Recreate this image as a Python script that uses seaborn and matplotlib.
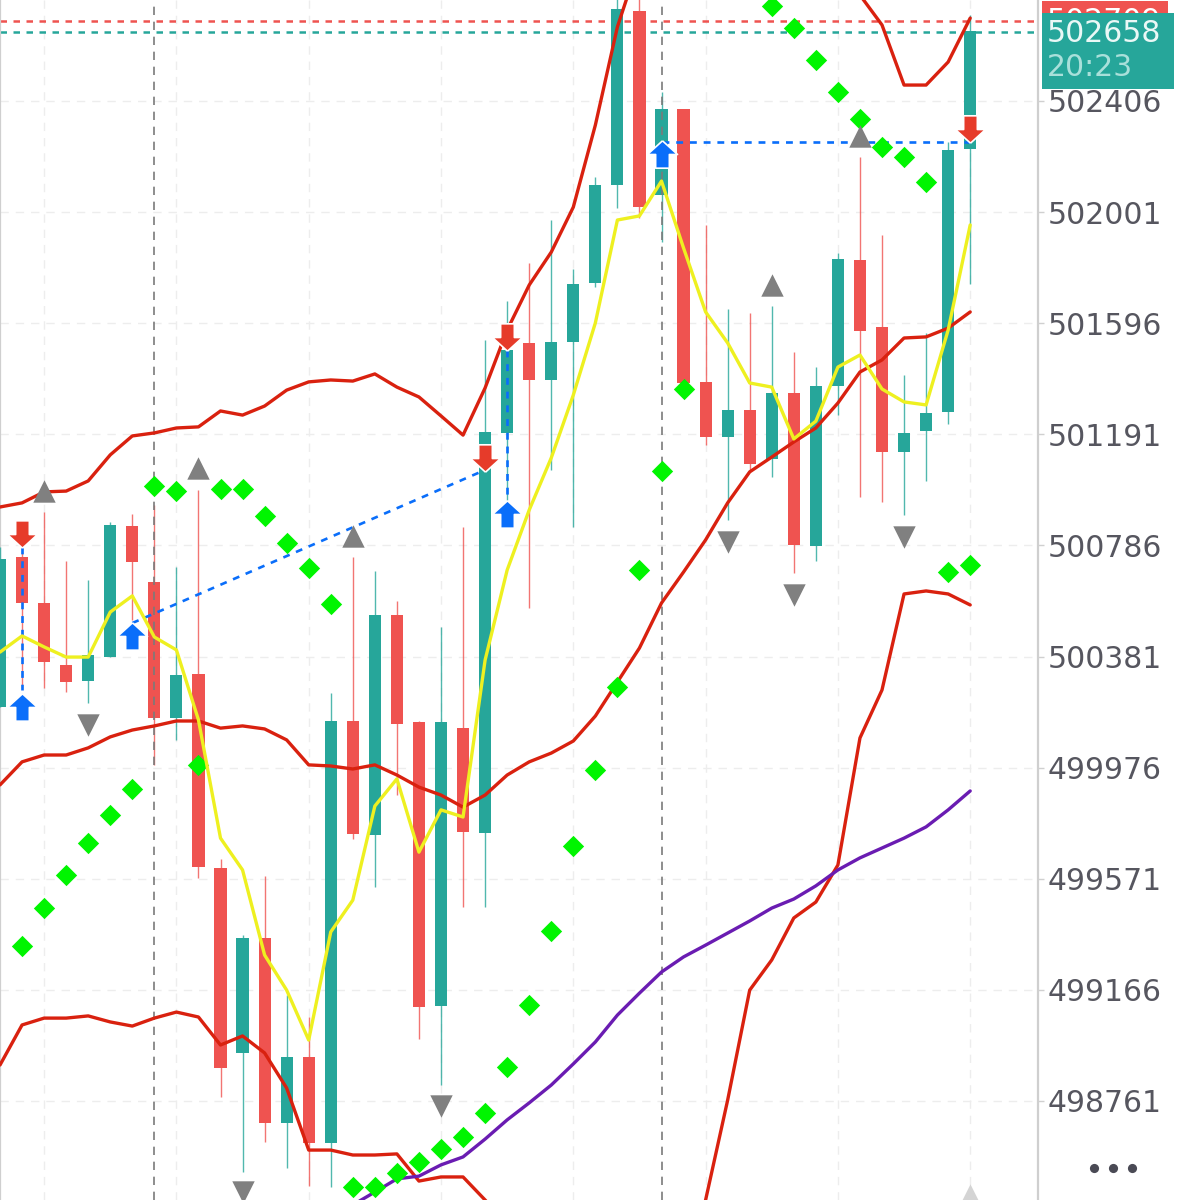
import numpy as np
import pandas as pd
import seaborn as sns
import matplotlib
matplotlib.use("Agg")
import matplotlib.pyplot as plt
from matplotlib.patches import Rectangle
from matplotlib.lines import Line2D

nan = np.nan
# candle values, one entry per bar
opens = [500197,500744,500576,500350,500292,500379,500857,500653,500157,500317,499610,498936,499355,498681,498921,498608,500146,499730,500532,500142,499107,500120,499738,501196,501524,501389,501527,501742,502100,502734,502063,502377,501382,501181,501280,501101,501342,500784,501367,501826,501582,501126,501203,501272,502231]
closes = [500736,500576,500361,500288,500387,500860,500726,500157,500314,499614,498881,499355,498681,498921,498608,500146,499734,500532,500135,499103,500142,499741,501199,501498,501389,501527,501739,502100,502741,502019,502377,501378,501181,501280,501083,501342,500787,501367,501830,501568,501126,501196,501269,502227,502661]
highs = [500780,500780,500908,500729,500660,500871,500900,500933,500707,500988,499643,499366,499581,499147,499067,500248,500744,500693,500583,500146,500489,500853,501535,501677,501815,501972,501793,502129,502847,502847,502439,502377,501954,501648,501633,501659,501491,501436,501852,502202,501917,501407,501560,502256,502719]
lows = [500197,500266,500266,500252,500212,500379,500514,499986,500077,499574,498775,498502,498611,498517,498451,498447,499716,499541,499876,498987,498819,499468,499468,500951,500558,501061,500853,501728,502016,501979,501892,501378,501152,500879,501061,501035,500685,500729,501261,500962,500944,500897,501021,501229,501739]

upper_band = [500926,500941,500981,500984,501021,501116,501185,501196,501214,501218,501276,501261,501294,501352,501382,501389,501385,501411,501363,501327,501258,501188,501360,501571,501735,501855,502019,502318,502676,502920,nan,nan,nan,nan,nan,nan,nan,nan,nan,502792,502683,502464,502464,502548,502708]
middle_band = [499913,499997,500022,500022,500048,500088,500113,500128,500146,500146,500120,500128,500117,500077,499986,499982,499971,499986,499949,499905,499876,499832,499876,499949,499997,500029,500073,500164,500288,500412,500576,500689,500806,500941,501054,501108,501163,501214,501305,501418,501462,501542,501546,501578,501637]
lower_band = [498892,499038,499063,499063,499071,499049,499034,499063,499085,499067,498965,498998,498936,498808,498582,498582,498564,498564,498568,498469,498484,498484,498400,498309,nan,nan,nan,nan,nan,nan,nan,498036,498400,498764,499165,499275,499428,499486,499621,500084,500259,500609,500620,500609,500569]
purple_ma = [nan]*16 + [498382,498429,498477,498487,498528,498557,498622,498692,498754,498819,498896,498976,499074,499154,499231,499286,499329,499373,499417,499464,499497,499545,499603,499647,499683,499719,499760,499822,499891]
yellow_ma = [500397,500456,500416,500379,500379,500543,500602,500452,500405,500150,499719,499603,499293,499165,498983,499377,499493,499836,499935,499668,499822,499796,500368,500696,500915,501105,501334,501597,501972,501987,502114,501870,501637,501524,501378,501363,501174,501239,501436,501480,501356,501309,501298,501571,501954]
sar = [nan,499326,499464,499585,499701,499803,499898,501003,500984,499986,500992,500992,500893,500795,500704,500572,498447,498447,498498,498538,498586,498630,498717,498885,499111,499381,499690,499967,500270,500696,501057,501356,nan,nan,nan,502752,502672,502555,502439,502340,502238,502202,502111,500689,500715]

tri_up_x = [2,9,16,35,39]
tri_up_y = [500984,501068,500820,501735,502278]
tri_up_faint_x = [44]
tri_up_faint_y = [498418]
tri_down_x = [4,11,20,33,36,41]
tri_down_y = [500131,498429,498743,500798,500605,500817]
buy_x = [1,6,23,30]
buy_y = [500197,500456,500900,502213]
sell_x = [1,22,23,44]
sell_y = [500826,501105,501546,502304]
trade_lines = [([1,1],[500780,500259]),([6,22],[500503,501061]),([23,23],[501498,500941]),([30,44],[502256,502256])]
price_ticks = [502406,502001,501596,501191,500786,500381,499976,499571,499166,498761]
grid_x = [2,8,14,20,26,32,38,44]
session_x = [7,30]
ask_price, bid_price = 502697, 502657
ask_label, bid_label, bar_timer = "502709", "502658", "20:23"

RED, TEAL = "#EF5350", "#26A69A"
LINE_RED, YELLOW, PURPLE = "#D9210F", "#EEF020", "#6A1CB2"
BLUE, ARROW_RED, GREEN, GREY = "#0A6EFA", "#E63B2A", "#00F500", "#808080"
TEXT = "#56565F"
W, H, AX_R = 1185, 1200, 1038

sns.set_theme(style="white")
plt.rcParams["font.family"] = ["DejaVu Sans"]
fig = plt.figure(figsize=(W/100, H/100), dpi=100, facecolor="white")
ax = fig.add_axes([0, 0, AX_R/W, 1])

idx = np.arange(len(opens))
df = pd.DataFrame(dict(i=idx, o=opens, c=closes, h=highs, l=lows, up=upper_band, mid=middle_band,
                       lowb=lower_band, purple=purple_ma, yellow=yellow_ma, sar=sar))
is_up = df.c >= df.o
cols = np.where(is_up, TEAL, RED)

ax.vlines(session_x, 498400, 502774, color="#7A7A7A", lw=1.2, ls=(0, (5, 4)), zorder=4)
ax.hlines(ask_price, 0, 48, color=RED, lw=1.8, ls=(0, (2.6, 2.6)), zorder=2)
ax.hlines(bid_price, 0, 48, color=TEAL, lw=1.8, ls=(0, (2.6, 2.6)), zorder=2)

ax.vlines(df.i, df.l, df.h, colors=cols, lw=1.0, alpha=0.8, zorder=3)
ax.bar(df.i, (df.c-df.o).abs(), bottom=df[["o", "c"]].min(axis=1), width=0.55, color=cols, linewidth=0, zorder=3)

for col, colr, z in [("up", LINE_RED, 5), ("mid", LINE_RED, 5), ("lowb", LINE_RED, 5), ("purple", PURPLE, 5), ("yellow", YELLOW, 8)]:
    sns.lineplot(data=df, x="i", y=col, color=colr, linewidth=2.4, estimator=None, sort=False, ax=ax, zorder=z, legend=False)

sns.scatterplot(data=df, x="i", y="sar", marker="D", s=118, color=GREEN, linewidth=0, ax=ax, zorder=7, legend=False)
sns.scatterplot(x=tri_up_x, y=tri_up_y, marker="^", s=260, color=GREY, linewidth=0, ax=ax, zorder=7)
sns.scatterplot(x=tri_down_x, y=tri_down_y, marker="v", s=260, color=GREY, linewidth=0, ax=ax, zorder=7)
sns.scatterplot(x=tri_up_faint_x, y=tri_up_faint_y, marker="^", s=260, color="#D4D4D4", linewidth=0, ax=ax, zorder=7)

for xs, ys in trade_lines:
    ax.plot(xs, ys, color=BLUE, lw=1.9, ls=(0, (2.6, 2.6)), zorder=6)

up_arrow = [(0, 1), (1.1, 0.0), (0.5, 0.0), (0.5, -1), (-0.5, -1), (-0.5, 0.0), (-1.1, 0.0), (0, 1)]
down_arrow = [(x, -y) for x, y in up_arrow]
ax.scatter(buy_x, buy_y, marker=up_arrow, s=470, color=BLUE, edgecolors="white", linewidths=1.2, zorder=9)
ax.scatter(sell_x, sell_y, marker=down_arrow, s=470, color=ARROW_RED, edgecolors="white", linewidths=1.2, zorder=9)

ax.set_xlim(0, AX_R/22.05)
ax.set_ylim(498400, 502774)
ax.set_xlabel(""); ax.set_ylabel("")
ax.set_xticks(grid_x)
ax.set_xticklabels([])
ax.set_yticks(price_ticks)
ax.set_yticklabels([str(v) for v in price_ticks])
ax.yaxis.tick_right()
ax.tick_params(axis="x", length=0)
ax.tick_params(axis="y", length=4, width=1, color="#D0D0D0", labelsize=21.5, labelcolor=TEXT, pad=3)
ax.grid(True, color="#EDEDED", lw=1, ls=(0, (6, 5)))
ax.set_axisbelow(True)
for s in ["top", "bottom"]:
    ax.spines[s].set_visible(False)
for s in ["left", "right"]:
    ax.spines[s].set_color("#CFCFCF")
    ax.spines[s].set_linewidth(1.6)

def fx(p): return p/W
def fy(p): return 1-p/H
fig.add_artist(Rectangle((fx(1042), fy(30)), 126/W, 29/H, transform=fig.transFigure, color=RED, lw=0, zorder=10))
fig.text(fx(1047), fy(22), ask_label, color="white", fontsize=21.5, va="center", ha="left", zorder=11)
fig.add_artist(Rectangle((fx(1042), fy(89)), 132/W, 76/H, transform=fig.transFigure, color=TEAL, lw=0, zorder=12))
fig.text(fx(1047), fy(33), bid_label, color="#EAF8F6", fontsize=21.5, va="center", ha="left", zorder=13)
fig.text(fx(1047), fy(68), bar_timer, color="#A9E0DA", fontsize=21.5, va="center", ha="left", zorder=13)
fig.add_artist(Line2D([fx(1094), fx(1113), fx(1132)], [fy(1168)]*3, transform=fig.transFigure, marker="o", ls="",
                      ms=6.6, mfc="#4A4A55", mec="none"))
fig.savefig("out.png", dpi=100, facecolor="white")
